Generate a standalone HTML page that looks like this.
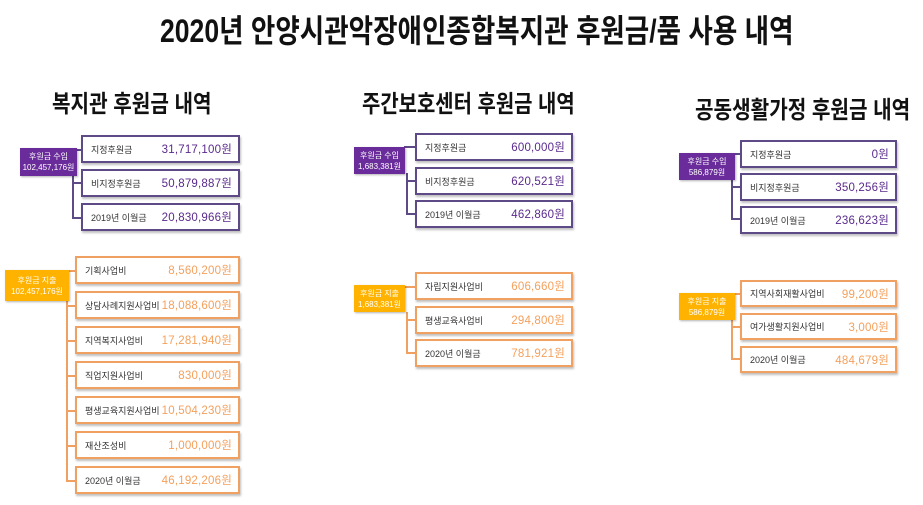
<!DOCTYPE html>
<html><head><meta charset="utf-8"><style>
body{margin:0;width:923px;height:505px;background:#fff;position:relative;overflow:hidden;font-family:"Liberation Sans","Noto Sans CJK KR",sans-serif}
.t{position:absolute;white-space:nowrap;font-weight:bold;color:#111;transform-origin:left top}
.r{position:absolute;color:#fff;font-size:8px;text-align:center;line-height:11px;display:flex;flex-direction:column;justify-content:center;white-space:nowrap;box-shadow:1px 1px 2px rgba(0,0,0,.3)}
.rp{background:#6a2c9a}.ro{background:#ffb300}
.b{position:absolute;background:#fff;box-sizing:border-box;box-shadow:1px 2px 2px rgba(0,0,0,.25);display:flex;align-items:center;justify-content:space-between;padding:0 6px 0 8px;white-space:nowrap}
.bp{border:2px solid #5e4a86}.bo{border:2px solid #f0a060}
.b .l{font-size:9px;color:#333}
.b .v{font-size:11.5px;letter-spacing:0.2px}
.bp .v{color:#5a2a8c}
.bo .v{color:#f4a05c}
.lp{position:absolute;background:#5e4a86}.lo{position:absolute;background:#f0a060}
</style></head><body>
<div class="t" style="left:160px;top:6px;font-size:32px;transform:scaleX(0.83)">2020년 안양시관악장애인종합복지관 후원금/품 사용 내역</div>
<div class="t" style="left:52px;top:84px;font-size:24px;transform:scaleX(0.84)">복지관 후원금 내역</div>
<div class="t" style="left:362px;top:84px;font-size:24px;transform:scaleX(0.83)">주간보호센터 후원금 내역</div>
<div class="t" style="left:695px;top:90px;font-size:24px;transform:scaleX(0.84)">공동생활가정 후원금 내역</div>

<!-- col1 purple -->
<div class="lp" style="left:73px;top:149px;width:9px;height:2px"></div>
<div class="lp" style="left:72px;top:175px;width:2px;height:44px"></div>
<div class="lp" style="left:72px;top:182px;width:10px;height:2px"></div>
<div class="lp" style="left:72px;top:217px;width:10px;height:2px"></div>
<div class="r rp" style="left:20px;top:148px;width:57px;height:28px">후원금 수입<span>102,457,176원</span></div>
<div class="b bp" style="left:81px;top:135px;width:159px;height:28px"><span class="l">지정후원금</span><span class="v">31,717,100원</span></div>
<div class="b bp" style="left:81px;top:169px;width:159px;height:28px"><span class="l">비지정후원금</span><span class="v">50,879,887원</span></div>
<div class="b bp" style="left:81px;top:203px;width:159px;height:28px"><span class="l">2019년 이월금</span><span class="v">20,830,966원</span></div>

<!-- col1 orange -->
<div class="lo" style="left:67px;top:270px;width:9px;height:2px"></div>
<div class="lo" style="left:66px;top:300px;width:2px;height:181px"></div>
<div class="lo" style="left:66px;top:305px;width:10px;height:2px"></div>
<div class="lo" style="left:66px;top:340px;width:10px;height:2px"></div>
<div class="lo" style="left:66px;top:375px;width:10px;height:2px"></div>
<div class="lo" style="left:66px;top:410px;width:10px;height:2px"></div>
<div class="lo" style="left:66px;top:445px;width:10px;height:2px"></div>
<div class="lo" style="left:66px;top:480px;width:10px;height:2px"></div>
<div class="r ro" style="left:5px;top:270px;width:64px;height:31px">후원금 지출<span>102,457,176원</span></div>
<div class="b bo" style="left:75px;top:256px;width:165px;height:28px"><span class="l">기획사업비</span><span class="v">8,560,200원</span></div>
<div class="b bo" style="left:75px;top:291px;width:165px;height:28px"><span class="l">상담사례지원사업비</span><span class="v">18,088,600원</span></div>
<div class="b bo" style="left:75px;top:326px;width:165px;height:28px"><span class="l">지역복지사업비</span><span class="v">17,281,940원</span></div>
<div class="b bo" style="left:75px;top:361px;width:165px;height:28px"><span class="l">직업지원사업비</span><span class="v">830,000원</span></div>
<div class="b bo" style="left:75px;top:396px;width:165px;height:28px"><span class="l">평생교육지원사업비</span><span class="v">10,504,230원</span></div>
<div class="b bo" style="left:75px;top:431px;width:165px;height:28px"><span class="l">재산조성비</span><span class="v">1,000,000원</span></div>
<div class="b bo" style="left:75px;top:466px;width:165px;height:28px"><span class="l">2020년 이월금</span><span class="v">46,192,206원</span></div>

<!-- col2 purple -->
<div class="lp" style="left:404px;top:146px;width:12px;height:2px"></div>
<div class="lp" style="left:406px;top:173px;width:2px;height:42px"></div>
<div class="lp" style="left:406px;top:180px;width:10px;height:2px"></div>
<div class="lp" style="left:406px;top:213px;width:10px;height:2px"></div>
<div class="r rp" style="left:354px;top:147px;width:51px;height:27px">후원금 수입<span>1,683,381원</span></div>
<div class="b bp" style="left:415px;top:133px;width:158px;height:28px"><span class="l">지정후원금</span><span class="v">600,000원</span></div>
<div class="b bp" style="left:415px;top:167px;width:158px;height:28px"><span class="l">비지정후원금</span><span class="v">620,521원</span></div>
<div class="b bp" style="left:415px;top:200px;width:158px;height:28px"><span class="l">2019년 이월금</span><span class="v">462,860원</span></div>

<!-- col2 orange -->
<div class="lo" style="left:404px;top:286px;width:12px;height:2px"></div>
<div class="lo" style="left:406px;top:312px;width:2px;height:42px"></div>
<div class="lo" style="left:406px;top:319px;width:10px;height:2px"></div>
<div class="lo" style="left:406px;top:352px;width:10px;height:2px"></div>
<div class="r ro" style="left:354px;top:285px;width:51px;height:27px">후원금 지출<span>1,683,381원</span></div>
<div class="b bo" style="left:415px;top:272px;width:158px;height:28px"><span class="l">자립지원사업비</span><span class="v">606,660원</span></div>
<div class="b bo" style="left:415px;top:306px;width:158px;height:28px"><span class="l">평생교육사업비</span><span class="v">294,800원</span></div>
<div class="b bo" style="left:415px;top:339px;width:158px;height:28px"><span class="l">2020년 이월금</span><span class="v">781,921원</span></div>

<!-- col3 purple -->
<div class="lp" style="left:734px;top:153px;width:7px;height:2px"></div>
<div class="lp" style="left:731px;top:180px;width:2px;height:40px"></div>
<div class="lp" style="left:731px;top:186px;width:10px;height:2px"></div>
<div class="lp" style="left:731px;top:218px;width:10px;height:2px"></div>
<div class="r rp" style="left:679px;top:153px;width:56px;height:27px">후원금 수입<span>586,879원</span></div>
<div class="b bp" style="left:740px;top:140px;width:157px;height:28px"><span class="l">지정후원금</span><span class="v">0원</span></div>
<div class="b bp" style="left:740px;top:173px;width:157px;height:28px"><span class="l">비지정후원금</span><span class="v">350,256원</span></div>
<div class="b bp" style="left:740px;top:206px;width:157px;height:28px"><span class="l">2019년 이월금</span><span class="v">236,623원</span></div>

<!-- col3 orange -->
<div class="lo" style="left:734px;top:293px;width:7px;height:2px"></div>
<div class="lo" style="left:731px;top:320px;width:2px;height:40px"></div>
<div class="lo" style="left:731px;top:326px;width:10px;height:2px"></div>
<div class="lo" style="left:731px;top:358px;width:10px;height:2px"></div>
<div class="r ro" style="left:679px;top:293px;width:56px;height:27px">후원금 지출<span>586,879원</span></div>
<div class="b bo" style="left:740px;top:280px;width:157px;height:27px"><span class="l">지역사회재활사업비</span><span class="v">99,200원</span></div>
<div class="b bo" style="left:740px;top:313px;width:157px;height:27px"><span class="l">여가생활지원사업비</span><span class="v">3,000원</span></div>
<div class="b bo" style="left:740px;top:346px;width:157px;height:27px"><span class="l">2020년 이월금</span><span class="v">484,679원</span></div>
</body></html>
